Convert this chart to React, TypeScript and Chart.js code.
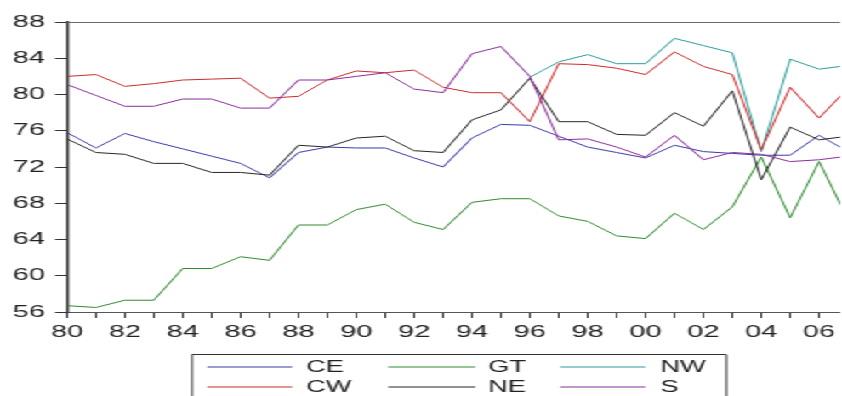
import React, { useEffect, useRef } from "react";
import { Chart, registerables } from "chart.js";

Chart.register(...registerables);

const years = [
  1980, 1981, 1982, 1983, 1984, 1985, 1986, 1987, 1988, 1989, 1990, 1991, 1992, 1993,
  1994, 1995, 1996, 1997, 1998, 1999, 2000, 2001, 2002, 2003, 2004, 2005, 2006, 2007,
];

const CE = [75.8, 74.1, 75.7, 74.8, 74.0, 73.2, 72.4, 70.8, 73.6, 74.2, 74.1, 74.1, 73.0, 72.0, 75.2, 76.7, 76.6, 75.4, 74.2, 73.6, 73.0, 74.4, 73.7, 73.5, 73.3, 73.3, 75.5, 73.7];
const GT = [56.7, 56.5, 57.3, 57.3, 60.8, 60.8, 62.1, 61.7, 65.6, 65.6, 67.3, 67.9, 65.9, 65.1, 68.1, 68.5, 68.5, 66.6, 66.0, 64.4, 64.1, 66.9, 65.1, 67.6, 73.1, 66.4, 72.6, 66.2];
const NW = [null, null, null, null, null, null, null, null, null, null, null, null, null, null, null, null, 81.9, 83.6, 84.4, 83.4, 83.4, 86.2, 85.4, 84.6, 73.7, 83.9, 82.8, 83.2];
const CW = [82.0, 82.2, 80.9, 81.2, 81.6, 81.7, 81.8, 79.6, 79.8, 81.6, 82.6, 82.4, 82.7, 80.8, 80.2, 80.2, 77.0, 83.4, 83.3, 82.9, 82.2, 84.7, 83.1, 82.2, 73.9, 80.8, 77.4, 80.7];
const NE = [75.1, 73.6, 73.4, 72.4, 72.4, 71.4, 71.4, 71.1, 74.4, 74.2, 75.2, 75.4, 73.8, 73.6, 77.2, 78.3, 81.8, 77.0, 77.0, 75.6, 75.5, 78.0, 76.5, 80.4, 70.6, 76.4, 75.0, 75.4];
const S = [81.1, 79.9, 78.7, 78.7, 79.5, 79.5, 78.5, 78.5, 81.6, 81.6, 82.0, 82.4, 80.6, 80.2, 84.5, 85.3, 82.0, 75.0, 75.1, 74.2, 73.1, 75.5, 72.8, 73.6, 73.4, 72.6, 72.8, 73.2];

const seriesNames = ["CE", "GT", "NW", "CW", "NE", "S"];
const seriesValues = [CE, GT, NW, CW, NE, S];
const seriesColors = ["#3a3aa8", "#2f8a2f", "#2a9c9c", "#cc2a2a", "#262626", "#8c2c9c"];

const yMin = 56;
const yMax = 88;
const yStep = 4;
const xMin = 1980;
const xMax = 2006.73;

const INNER_W = 495;
const H = 396;
const SCALE_X = 842 / INNER_W;
const FONT = "'Liberation Sans', Arial, sans-serif";

const framePlugin = {
  id: "frameAndLegend",
  afterDraw(chart: any) {
    const { ctx, chartArea } = chart;
    ctx.save();
    ctx.strokeStyle = "#6a6a6a";
    ctx.lineWidth = 1;
    ctx.beginPath();
    ctx.moveTo(chartArea.left, chartArea.top + 0.5);
    ctx.lineTo(chartArea.right, chartArea.top + 0.5);
    ctx.stroke();

    const bx = 112.4;
    const by = 354;
    const bw = 426.5 - 112.4;
    ctx.strokeStyle = "#333";
    ctx.beginPath();
    ctx.moveTo(bx + 0.5, H + 5);
    ctx.lineTo(bx + 0.5, by + 0.5);
    ctx.lineTo(bx + bw + 0.5, by + 0.5);
    ctx.lineTo(bx + bw + 0.5, H + 5);
    ctx.stroke();

    const colLine = [
      [121.8, 171.8, 180],
      [228.2, 279.4, 287],
      [329.4, 379.4, 388.2],
    ];
    const rowY = [367, 387];
    ctx.font = `16px ${FONT}`;
    ctx.textBaseline = "middle";
    ctx.textAlign = "left";
    for (let i = 0; i < seriesNames.length; i++) {
      const col = i % 3;
      const row = Math.floor(i / 3);
      const [x0, x1, tx] = colLine[col];
      const y = rowY[row];
      ctx.beginPath();
      ctx.strokeStyle = seriesColors[i];
      ctx.lineWidth = 1.2;
      ctx.moveTo(x0, y);
      ctx.lineTo(x1, y);
      ctx.stroke();
      ctx.fillStyle = "#222";
      ctx.fillText(seriesNames[i], tx, y + 1);
    }
    ctx.restore();
  },
};

export default function App() {
  const ref = useRef<HTMLCanvasElement | null>(null);

  useEffect(() => {
    if (!ref.current) return;
    const datasets = seriesNames.map((name, i) => ({
      label: name,
      data: years.map((yr, j) => ({ x: yr, y: seriesValues[i][j] })),
      borderColor: seriesColors[i],
      backgroundColor: seriesColors[i],
      borderWidth: 1,
      pointRadius: 0,
      tension: 0,
      spanGaps: false,
      order: seriesNames.length - i,
    }));

    const chart = new Chart(ref.current, {
      type: "line",
      data: { datasets },
      plugins: [framePlugin],
      options: {
        animation: false,
        responsive: false,
        devicePixelRatio: 1,
        layout: { padding: { top: 22, left: 0, right: 0, bottom: 0 } },
        plugins: {
          legend: { display: false },
          tooltip: { enabled: false },
        },
        scales: {
          x: {
            type: "linear",
            min: xMin,
            max: xMax,
            afterFit: (scale: any) => {
              scale.height = 84;
            },
            border: { display: true, color: "#555", width: 1 },
            grid: {
              display: true,
              drawOnChartArea: false,
              drawTicks: true,
              tickLength: 6,
              color: "#333",
              lineWidth: 1,
            },
            ticks: {
              stepSize: 1,
              autoSkip: false,
              includeBounds: false,
              maxRotation: 0,
              padding: 4,
              color: "#222",
              font: { family: FONT, size: 17 },
              callback: (v: any) => {
                const n = Number(v);
                if (n % 2 !== 0) return "";
                return String(n % 100).padStart(2, "0");
              },
            },
          },
          y: {
            min: yMin,
            max: yMax,
            afterFit: (scale: any) => {
              scale.width = 39.4;
            },
            border: { display: true, color: "#333", width: 1.5 },
            grid: {
              display: true,
              drawOnChartArea: false,
              drawTicks: true,
              tickLength: 7,
              color: "#333",
              lineWidth: 1,
            },
            ticks: {
              stepSize: yStep,
              padding: 6,
              color: "#222",
              font: { family: FONT, size: 17 },
            },
          },
        },
      },
    } as any);
    return () => chart.destroy();
  }, []);

  return (
    <div
      style={{
        position: "absolute",
        left: 0,
        top: 0,
        width: INNER_W,
        height: H,
        transform: `scaleX(${SCALE_X})`,
        transformOrigin: "0 0",
        background: "#fff",
        overflow: "hidden",
      }}
    >
      <canvas ref={ref} width={INNER_W} height={H} style={{ display: "block" }} />
    </div>
  );
}
